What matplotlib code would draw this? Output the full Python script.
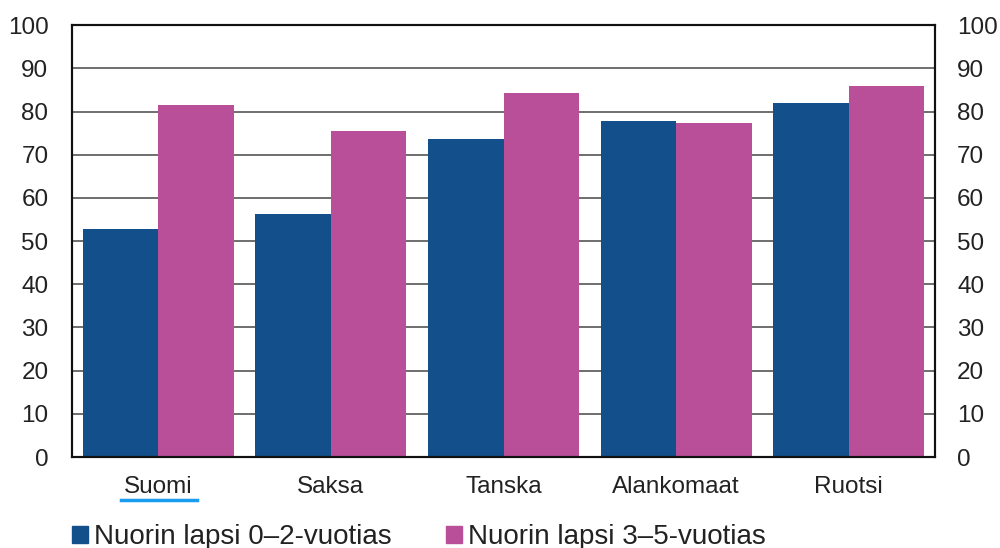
import matplotlib.pyplot as plt
import numpy as np
from matplotlib.lines import Line2D
from matplotlib.patches import Patch

plt.rcParams['font.family'] = ['Liberation Sans', 'DejaVu Sans']

maat = ['Suomi', 'Saksa', 'Tanska', 'Alankomaat', 'Ruotsi']
lapsi_0_2 = [52.8, 56.3, 73.6, 77.8, 82.0]
lapsi_3_5 = [81.5, 75.5, 84.3, 77.3, 85.9]
sarjat = ['Nuorin lapsi 0–2-vuotias', 'Nuorin lapsi 3–5-vuotias']

sininen = '#124f8b'
pinkki = '#b84f98'

fig = plt.figure(figsize=(10, 5.48), dpi=100)
ax = fig.add_axes([0.072, 0.166, 0.863, 0.788])

x = np.arange(len(maat))
w = 0.4375
ax.bar(x - w / 2, lapsi_0_2, w, color=sininen, zorder=2)
ax.bar(x + w / 2, lapsi_3_5, w, color=pinkki, zorder=2)

ax.set_xlim(-0.5, len(maat) - 0.5)
ax.set_ylim(0, 100)
ax.set_yticks(range(0, 101, 10))
ax.yaxis.grid(True, color='#555555', linewidth=1.2, zorder=0)
ax.set_axisbelow(True)

ax.set_xticks(x)
ax.set_xticklabels(maat, fontsize=17.5, color='#222222')
ax.tick_params(axis='y', length=0, labelsize=17.5, colors='#222222', pad=17)
ax.tick_params(axis='x', length=0, colors='#222222', pad=14)

oikea = ax.twinx()
oikea.set_ylim(0, 100)
oikea.set_yticks(range(0, 101, 10))
oikea.tick_params(axis='y', length=0, labelsize=17.5, colors='#222222', pad=16)

for a in (ax, oikea):
    for s in a.spines.values():
        s.set_linewidth(1.5)
        s.set_color('#111111')

# alleviivaus "Suomi"-tekstin alla
fig.add_artist(Line2D([0.121, 0.197], [1 - 500 / 548, 1 - 500 / 548],
                      color='#1a9cf0', linewidth=2.5))

kahvat = [Patch(color=sininen), Patch(color=pinkki)]
fig.legend(kahvat, sarjat, loc='lower left', bbox_to_anchor=(0.047, -0.05),
           ncol=2, frameon=False, fontsize=20, handlelength=0.58,
           handleheight=0.58, handletextpad=0.22, columnspacing=1.95,
           labelcolor='#222222')

fig.savefig('out.png', dpi=100)
